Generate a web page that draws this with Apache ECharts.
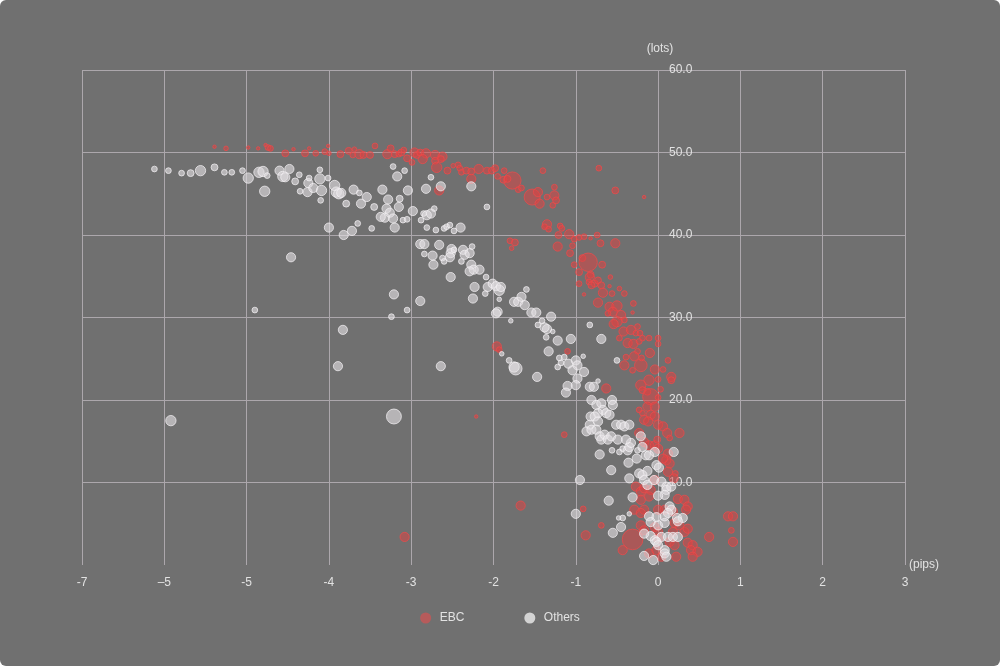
<!DOCTYPE html>
<html>
<head>
<meta charset="utf-8">
<script src="https://cdn.jsdelivr.net/npm/echarts@6/dist/echarts.min.js"></script>
<style>
html,body{margin:0;padding:0;background:#ffffff;}
#chart{width:1000px;height:666px;background:#707070;border-radius:6px;overflow:hidden;}
</style>
</head>
<body>
<div id="chart"></div>
<script>
// ---- data: [pips, lots, volume] ----
const seriesNames = ['EBC', 'Others'];
const xTickLabels = ['-7', '\u20135', '-5', '-4', '-3', '-2', '-1', '0', '1', '2', '3'];
const xName = '(pips)';
const yName = '(lots)';

const ebcData = [
[-5.39,50.7,3],[-5.25,50.5,4],[-4.98,50.6,3],[-4.86,50.5,3],[-4.77,50.9,3],[-4.74,50.6,5],[-4.71,50.5,5],[-4.53,49.9,6],[-4.43,50.4,3],[-4.29,49.9,6],
[-4.24,50.5,3],[-4.16,49.9,5],[-4.05,50.1,5],[-4.01,50.8,3],[-4.00,49.9,4],[-3.86,49.8,6],[-3.76,50.2,6],[-3.71,49.7,5],[-3.69,50.4,4],[-3.63,49.8,8],
[-3.58,49.7,6],[-3.50,49.7,6],[-3.44,50.8,5],[-3.29,49.8,8],[-3.25,50.5,6],[-3.20,49.8,6],[-3.15,49.8,5],[-3.12,50.0,6],[-3.09,50.3,5],[-3.05,49.3,6],
[-2.99,48.8,5],[-2.96,50.0,8],[-2.93,49.7,6],[-2.89,50.0,6],[-2.82,49.9,8],[-2.86,49.2,8],[-2.71,49.7,8],[-2.62,49.5,8],[-2.64,49.2,6],[-2.71,49.0,6],
[-2.69,48.2,9],[-2.56,47.8,6],[-2.49,48.4,4],[-2.43,48.5,5],[-2.41,48.1,5],[-2.39,47.6,5],[-2.33,47.8,6],[-2.27,47.7,6],[-2.27,46.8,8],[-2.18,48.0,8],
[-2.08,47.8,6],[-2.02,47.8,6],[-1.98,48.1,6],[-1.95,47.1,5],[-1.87,47.8,5],[-1.88,46.7,6],[-1.77,46.6,15],[-1.83,46.8,6],[-1.70,45.5,5],[-1.66,45.7,5],
[-1.53,44.6,14],[-1.46,45.2,8],[-1.44,43.8,8],[-1.35,44.6,5],[-1.28,43.6,5],[-1.26,45.8,5],[-1.26,44.8,8],[-1.24,44.2,6],[-1.40,47.8,5],[-0.72,48.1,5],
[-0.52,45.4,6],[-0.17,44.6,3],[-2.66,45.4,8],[-1.35,41.3,8],[-1.38,41.0,5],[-1.33,40.7,5],[-1.19,41.1,5],[-1.17,40.8,5],[-1.80,39.3,5],[-1.74,39.1,6],
[-1.78,38.4,4],[-1.21,40.0,6],[-1.08,40.1,8],[-1.02,39.5,5],[-0.96,39.7,5],[-0.90,39.8,5],[-0.82,39.6,3],[-0.74,40.0,5],[-0.70,39.0,6],[-0.52,39.0,8],
[-1.22,38.6,8],[-1.04,38.7,5],[-1.07,37.8,6],[-0.92,37.2,6],[-0.85,36.7,16],[-1.02,36.4,5],[-0.96,35.5,6],[-0.82,35.2,6],[-0.68,36.4,6],[-0.58,34.9,4],
[-0.96,34.1,5],[-0.90,32.8,3],[-0.83,34.9,8],[-0.84,34.3,5],[-0.77,34.1,6],[-0.73,34.5,6],[-0.69,33.9,6],[-0.81,33.9,6],[-0.59,33.8,3],[-0.67,33.0,8],
[-0.56,32.9,5],[-0.47,33.5,4],[-0.41,32.9,5],[-0.73,31.8,8],[-0.59,31.3,8],[-0.50,31.4,9],[-0.55,30.7,8],[-0.61,30.5,5],[-0.45,30.3,8],[-0.41,29.7,5],
[-0.50,29.5,9],[-0.54,29.2,8],[-0.30,31.7,5],[-0.31,30.6,3],[-0.42,28.3,8],[-0.33,28.5,8],[-0.25,28.9,5],[-0.27,28.1,5],[-0.22,28.1,5],[-0.47,27.5,5],
[-0.37,26.9,8],[-0.30,26.8,8],[-0.23,27.1,5],[-0.19,27.5,5],[-0.11,27.5,5],[0.00,27.5,5],[0.00,26.8,5],[-0.10,25.7,8],[-0.25,25.9,5],[-0.29,25.3,8],
[-0.39,25.2,5],[-0.41,24.2,8],[-0.31,23.6,5],[-0.21,24.2,11],[-0.20,25.1,5],[0.12,24.8,5],[-0.04,23.7,8],[0.06,23.7,5],[0.16,22.8,8],[0.00,22.5,5],
[-0.11,22.4,9],[-0.21,21.8,9],[-0.19,21.2,6],[-0.13,21.0,6],[-0.09,20.4,14],[-0.13,19.2,8],[-0.04,19.2,8],[0.03,21.3,5],[0.00,20.3,5],[-0.23,18.8,5],
[-0.19,18.4,5],[-0.09,18.2,8],[-0.04,18.0,8],[-0.63,21.4,8],[-1.10,25.9,5],[-1.96,26.5,8],[-1.93,26.1,5],[-2.21,18.0,3],[0.16,22.4,6],[-0.17,17.6,8],
[-0.12,17.4,8],[0.00,17.0,8],[0.06,16.8,8],[0.11,16.0,8],[0.26,16.0,8],[0.14,15.4,5],[-0.23,16.0,8],[-0.17,14.9,8],[-0.11,14.5,8],[-0.04,14.5,8],
[-0.01,15.2,6],[0.00,14.1,8],[0.12,13.5,8],[0.10,12.7,8],[0.14,12.3,8],[0.06,12.9,8],[0.21,11.1,5],[0.19,10.5,8],[0.12,11.3,8],[-0.04,10.3,8],
[-0.27,9.5,8],[-0.21,8.9,8],[-0.17,9.3,8],[-0.09,9.1,8],[-0.21,7.9,8],[-0.11,8.3,8],[0.24,8.0,8],[0.32,7.9,8],[0.36,7.1,8],[0.34,6.7,8],
[-0.29,6.7,8],[-0.17,6.7,8],[-0.21,6.3,8],[0.00,6.7,8],[0.08,6.7,8],[0.18,6.5,8],[-0.91,6.8,5],[-0.69,4.8,5],[-0.88,3.6,8],[-0.31,3.1,18],
[-0.21,4.8,8],[-0.17,4.2,8],[-0.04,4.6,8],[0.00,4.0,8],[0.20,5.1,8],[0.26,4.8,8],[0.32,4.0,8],[0.36,4.4,8],[0.18,4.0,8],[0.14,2.8,8],
[0.20,2.4,8],[0.36,2.7,8],[0.42,2.4,8],[0.40,1.8,8],[0.48,1.6,8],[0.42,1.0,8],[0.62,3.4,8],[0.00,3.2,8],[-0.43,1.8,8],[-0.11,1.4,8],
[-0.02,1.8,8],[0.04,1.0,8],[0.22,1.0,8],[-1.14,15.8,5],[0.85,5.9,8],[0.91,5.9,8],[0.89,4.2,5],[0.91,2.8,8],[-3.08,3.4,8],[-1.67,7.2,8]
];

const othersData = [
[-6.12,48.0,5],[-5.95,47.8,5],[-5.79,47.5,5],[-5.68,47.5,6],[-5.56,47.8,9],[-5.39,48.2,6],[-5.27,47.6,5],[-5.18,47.6,5],[-5.05,47.8,5],[-4.98,46.9,9],
[-4.85,47.6,9],[-4.80,47.7,9],[-4.75,47.2,5],[-4.78,45.3,9],[-4.60,47.8,8],[-4.48,48.0,8],[-4.56,47.1,9],[-4.53,47.0,8],[-4.41,46.5,6],[-4.36,47.3,5],
[-4.35,45.3,5],[-4.25,46.3,8],[-4.26,45.2,8],[-4.24,46.9,5],[-4.19,45.7,8],[-4.09,45.4,9],[-4.11,46.8,9],[-4.11,47.9,5],[-4.10,44.2,5],[-4.01,46.9,5],
[-3.93,46.0,9],[-3.91,45.2,9],[-3.88,45.0,9],[-3.85,45.1,8],[-3.79,43.8,6],[-3.70,45.5,8],[-3.63,45.1,5],[-3.61,43.8,8],[-3.54,44.6,8],[-3.45,43.4,6],
[-3.48,40.8,5],[-3.65,41.4,5],[-3.72,40.5,8],[-3.82,40.0,8],[-4.00,40.9,8],[-4.46,37.3,8],[-3.35,45.5,8],[-3.28,44.3,8],[-3.22,48.3,5],[-3.17,47.1,8],
[-3.30,43.2,8],[-3.26,42.7,8],[-3.32,42.1,8],[-3.22,42.0,8],[-3.20,40.9,8],[-3.15,43.4,8],[-3.14,44.4,6],[-3.08,47.8,5],[-3.04,45.4,8],[-2.82,45.6,8],
[-2.76,47.0,5],[-2.64,45.9,8],[-2.27,45.9,8],[-3.37,42.2,8],[-2.98,42.9,8],[-2.85,42.6,5],[-2.81,42.4,8],[-2.72,43.2,5],[-2.76,42.6,8],[-3.10,41.8,5],
[-3.05,41.9,5],[-2.88,41.8,5],[-2.81,40.9,5],[-2.70,40.6,5],[-2.60,40.8,5],[-2.57,41.0,5],[-2.53,41.2,5],[-2.48,40.5,5],[-2.40,40.9,8],[-2.08,43.4,5],
[-2.89,38.9,8],[-2.84,38.9,8],[-2.66,38.8,8],[-2.84,37.7,5],[-2.74,37.5,8],[-2.73,36.4,8],[-2.62,37.2,5],[-2.60,36.8,5],[-2.51,38.3,8],[-2.52,37.8,8],
[-2.53,37.3,8],[-2.48,38.2,5],[-2.37,38.2,8],[-2.35,37.6,8],[-2.39,36.8,5],[-2.29,37.8,8],[-2.27,36.4,8],[-2.24,35.8,8],[-2.29,35.6,8],[-2.17,35.8,8],
[-2.26,38.6,5],[-2.52,34.9,8],[-2.09,34.9,5],[-2.23,33.7,8],[-2.25,32.3,8],[-2.10,32.9,5],[-2.07,33.7,8],[-2.01,34.1,8],[-1.97,33.8,8],[-1.93,33.3,9],
[-1.91,33.7,8],[-1.93,32.2,4],[-1.95,30.7,8],[-1.97,30.5,8],[-1.75,31.9,8],[-1.70,31.9,8],[-1.66,32.5,8],[-1.62,31.5,8],[-1.60,33.4,5],[-1.54,30.6,8],
[-1.48,30.6,8],[-1.79,29.6,4],[-1.41,29.6,5],[-1.46,29.1,5],[-1.35,28.6,8],[-1.38,28.8,8],[-1.30,30.1,8],[-1.28,28.3,4],[-1.36,27.6,5],[-1.22,27.2,8],
[-1.06,27.4,8],[-1.33,25.9,8],[-0.83,29.1,5],[-0.69,27.4,8],[-1.90,25.6,4],[-1.81,24.8,5],[-1.75,24.0,9],[-1.73,23.8,11],[-1.47,22.8,8],[-2.64,24.1,8],
[-1.20,25.1,5],[-1.18,24.5,5],[-1.14,25.2,5],[-1.22,24.0,5],[-1.09,24.4,8],[-1.00,24.8,8],[-0.98,24.2,8],[-0.90,23.4,8],[-1.04,23.6,8],[-0.91,25.3,4],
[-0.98,22.6,8],[-1.00,21.8,8],[-1.10,21.7,8],[-1.12,20.9,8],[-0.83,21.6,8],[-0.78,21.6,8],[-0.73,22.3,4],[-0.81,20.0,8],[-0.75,19.4,8],[-0.69,19.6,8],
[-0.67,18.8,8],[-0.73,18.4,8],[-0.82,18.0,8],[-0.63,18.4,8],[-0.56,20.0,8],[-0.55,19.4,8],[-0.50,24.8,5],[-0.77,18.0,8],[-0.59,18.2,8],[-0.73,17.4,8],
[-0.83,17.0,8],[-0.87,16.2,8],[-0.81,16.4,8],[-0.75,16.4,8],[-0.71,15.6,8],[-0.69,15.2,8],[-0.65,15.8,8],[-0.61,15.2,8],[-0.57,15.6,8],[-0.51,17.0,8],
[-0.45,17.0,8],[-0.41,16.8,8],[-0.35,17.0,8],[-0.47,13.7,5],[-0.56,13.9,5],[-0.43,14.1,5],[-0.37,13.9,8],[-0.35,14.3,8],[-0.33,14.8,8],[-0.21,15.6,8],
[-0.71,13.4,8],[-0.57,11.5,8],[-0.36,12.4,8],[-0.26,12.9,8],[-0.15,13.3,8],[-0.11,13.3,8],[-0.04,13.7,8],[-0.02,12.1,8],[0.01,11.8,8],[-0.13,11.4,8],
[-0.23,11.1,8],[-0.19,10.9,8],[-0.35,10.5,8],[-0.17,10.3,8],[-0.13,9.7,8],[-0.05,10.3,8],[0.04,10.1,8],[0.10,9.5,8],[0.10,9.1,8],[0.08,8.5,8],
[0.00,8.4,8],[0.19,13.7,8],[-0.95,10.3,8],[-0.31,8.2,8],[-0.60,7.8,8],[-1.00,6.2,8],[-0.11,5.9,8],[-0.02,5.8,8],[-0.09,5.2,8],[0.00,4.8,8],
[0.14,7.1,8],[0.16,6.7,8],[0.12,6.3,8],[0.23,5.7,8],[0.30,5.7,8],[0.24,5.3,8],[0.08,5.1,8],[-0.43,5.7,5],[-0.48,5.7,4],[-0.35,6.2,4],
[-0.45,4.6,8],[-0.55,3.9,8],[-0.09,3.5,8],[-0.04,3.0,8],[0.04,3.4,8],[0.12,3.4,8],[0.18,3.4,8],[0.24,3.4,8],[-0.02,2.8,8],[0.00,2.4,8],
[0.08,1.8,8],[0.08,1.4,8],[0.10,1.0,8],[-0.17,1.1,8],[-3.21,18.0,13],[-3.21,32.8,8],[-2.89,32.0,8],[-3.05,30.9,5],[-3.24,30.1,5],[-3.83,28.5,8],
[-3.89,24.1,8],[-4.90,30.9,5],[-5.92,17.5,9],[-0.49,15.2,8],[-0.39,15.2,8],[-0.25,13.9,5],[-0.19,14.3,8],[0.16,9.5,8],[0.08,5.9,8],[-0.17,3.8,8],
[-0.06,0.6,8]
];

const xMin = -7, xMax = 3, xStep = 1;
const yMin = 0, yMax = 60, yStep = 10;

const textColor = '#e2e2e2';
const gridLineColor = '#aca7ac';
const fontFamily = '"Liberation Sans", Arial, Helvetica, sans-serif';

const chart = echarts.init(document.getElementById('chart'));
chart.setOption({
  backgroundColor: 'transparent',
  animation: false,
  textStyle: { fontFamily: fontFamily },
  grid: { left: 82, right: 95, top: 70, bottom: 101, containLabel: false },
  legend: {
    data: [
      { name: seriesNames[0], itemStyle: { color: '#c85656', borderWidth: 0 } },
      { name: seriesNames[1], itemStyle: { color: '#ececec', borderWidth: 0 } }
    ],
    top: 607,
    left: 'center',
    itemGap: 60,
    itemWidth: 18,
    itemHeight: 11,
    icon: 'circle',
    textStyle: { color: textColor, fontSize: 12, fontFamily: fontFamily }
  },
  xAxis: {
    type: 'value',
    min: xMin, max: xMax, interval: xStep,
    name: xName,
    nameLocation: 'end',
    nameGap: 4,
    nameTextStyle: { color: textColor, fontSize: 12, verticalAlign: 'middle' },
    axisLine: { show: false, onZero: false },
    axisTick: { show: false },
    axisLabel: {
      color: textColor, fontSize: 12, margin: 12,
      formatter: function (v) { return xTickLabels[Math.round((v - xMin) / xStep)]; }
    },
    splitLine: { show: true, lineStyle: { color: gridLineColor, width: 1 } }
  },
  yAxis: {
    type: 'value',
    min: yMin, max: yMax, interval: yStep,
    position: 'left',
    offset: -576,
    name: yName,
    nameLocation: 'end',
    nameGap: 15,
    nameTextStyle: { color: textColor, fontSize: 12, align: 'center', padding: [0, 0, 0, 4] },
    axisLine: { show: false, onZero: false },
    axisTick: { show: false },
    axisLabel: {
      inside: true, color: textColor, fontSize: 12, margin: 11,
      showMinLabel: false,
      formatter: function (v) { return v.toFixed(1); }
    },
    splitLine: { show: true, showMinLine: false, lineStyle: { color: gridLineColor, width: 1 } }
  },
  series: [
    {
      name: seriesNames[0],
      type: 'scatter',
      data: ebcData,
      symbolSize: function (d) { return d[2] * 1.15; },
      itemStyle: {
        color: 'rgba(222,66,66,0.66)',
        borderColor: 'rgba(240,74,74,0.9)',
        borderWidth: 1
      }
    },
    {
      name: seriesNames[1],
      type: 'scatter',
      data: othersData,
      symbolSize: function (d) { return d[2] * 1.15; },
      itemStyle: {
        color: 'rgba(228,225,228,0.75)',
        borderColor: 'rgba(245,242,245,0.9)',
        borderWidth: 1
      }
    }
  ]
});
</script>
</body>
</html>
